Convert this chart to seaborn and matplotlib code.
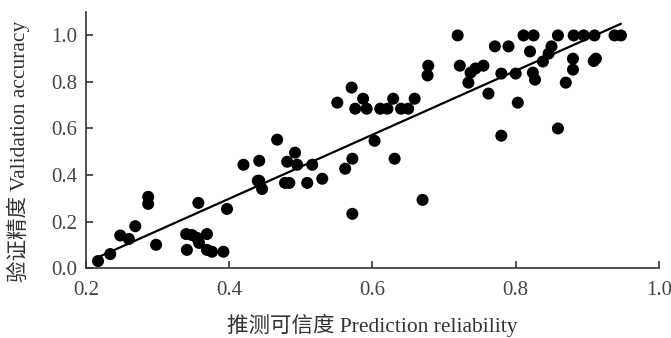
import numpy as np
import pandas as pd
import seaborn as sns
import matplotlib.pyplot as plt

# Prediction reliability vs validation accuracy
reliability = [0.217, 0.234, 0.248, 0.260, 0.269, 0.287, 0.287, 0.298,
               0.341, 0.340, 0.348, 0.355, 0.358, 0.369, 0.369, 0.376, 0.392,
               0.357, 0.397, 0.440, 0.446,
               0.420, 0.442, 0.442, 0.467, 0.481, 0.492, 0.495, 0.478, 0.484,
               0.509, 0.516, 0.530, 0.551, 0.571, 0.576, 0.587, 0.592, 0.611,
               0.621, 0.629, 0.640, 0.650, 0.659, 0.562, 0.572, 0.572, 0.603,
               0.631, 0.670,
               0.678, 0.677, 0.719, 0.722, 0.737, 0.744, 0.755, 0.734, 0.771,
               0.790, 0.762, 0.780, 0.800, 0.803, 0.780, 0.811, 0.825, 0.820,
               0.824, 0.827, 0.838, 0.846, 0.850, 0.859, 0.859, 0.870, 0.880,
               0.880, 0.881, 0.895, 0.910, 0.909, 0.912, 0.938, 0.947]
accuracy = [0.030, 0.060, 0.140, 0.125, 0.180, 0.306, 0.276, 0.100,
            0.078, 0.146, 0.142, 0.130, 0.108, 0.146, 0.078, 0.070, 0.070,
            0.280, 0.254, 0.375, 0.340,
            0.444, 0.461, 0.375, 0.552, 0.457, 0.496, 0.444, 0.366, 0.366,
            0.366, 0.444, 0.384, 0.711, 0.776, 0.685, 0.728, 0.685, 0.685,
            0.685, 0.728, 0.685, 0.685, 0.728, 0.427, 0.470, 0.233, 0.547,
            0.470, 0.293,
            0.870, 0.828, 1.000, 0.870, 0.840, 0.858, 0.870, 0.797, 0.953,
            0.953, 0.750, 0.836, 0.836, 0.711, 0.569, 1.000, 1.000, 0.931,
            0.840, 0.810, 0.888, 0.922, 0.953, 1.000, 0.600, 0.797, 0.900,
            0.853, 1.000, 1.000, 1.000, 0.890, 0.900, 1.000, 1.000]

x_ticks = [0.2, 0.4, 0.6, 0.8, 1.0]
y_ticks = [0.0, 0.2, 0.4, 0.6, 0.8, 1.0]

df = pd.DataFrame({'reliability': reliability, 'accuracy': accuracy})

sns.set_style('ticks')
plt.rcParams['font.family'] = ['Liberation Serif', 'Noto Sans CJK SC']
plt.rcParams['xtick.direction'] = 'in'
plt.rcParams['ytick.direction'] = 'in'

fig = plt.figure(figsize=(6.71, 3.38), dpi=100)
ax = fig.add_axes([0.128, 0.207, 0.854, 0.757])

# scatter + least squares line over the data range
sns.regplot(data=df, x='reliability', y='accuracy', ci=None, ax=ax,
            scatter_kws={'s': 75, 'color': 'black', 'edgecolor': 'none', 'alpha': 1},
            line_kws={'color': 'black', 'linewidth': 1.6})

ax.set_xlim(0.2, 1.0)
ax.set_ylim(0.0, 1.1)
ax.set_xticks(x_ticks)
ax.set_yticks(y_ticks)
ax.set_xticklabels([f'{t:.1f}' for t in x_ticks])
ax.set_yticklabels([f'{t:.1f}' for t in y_ticks])
ax.tick_params(labelsize=15, length=5, width=1.2, color='#333333', labelcolor='#444444')
ax.tick_params(axis='x', pad=9)
ax.tick_params(axis='y', pad=6)
for side in ['top', 'right']:
    ax.spines[side].set_visible(False)
for side in ['left', 'bottom']:
    ax.spines[side].set_linewidth(1.2)
    ax.spines[side].set_color('#333333')

ax.set_xlabel('推测可信度 Prediction reliability', fontsize=15.5, color='#333333', labelpad=10)
ax.set_ylabel('验证精度 Validation accuracy', fontsize=15.5, color='#333333')
ax.yaxis.set_label_coords(-0.097, 0.455)

fig.savefig('out.png', dpi=100)
